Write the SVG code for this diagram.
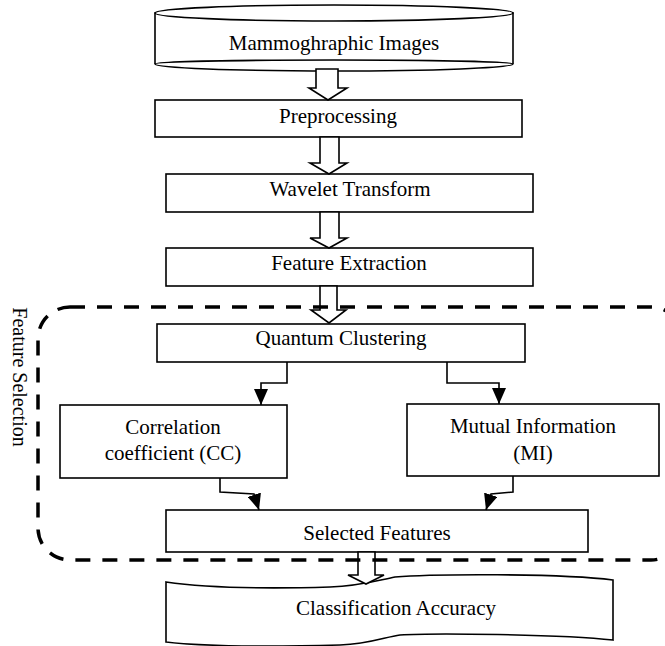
<svg xmlns="http://www.w3.org/2000/svg" width="665" height="646" viewBox="0 0 665 646">
<defs>
<style>
.box{fill:#fff;stroke:#000;stroke-width:1.6}
.blk{fill:#fff;stroke:#000;stroke-width:1.6;stroke-linejoin:miter}
.con{fill:none;stroke:#000;stroke-width:1.6}
.lbl{font-family:"Liberation Serif","Times New Roman",serif;font-size:21px;fill:#000;text-anchor:middle}
.grp{fill:none;stroke:#000;stroke-width:3.5;stroke-dasharray:15 12}
</style>
<marker id="ah" viewBox="0 0 16 14" refX="16" refY="7" markerWidth="16" markerHeight="14" markerUnits="userSpaceOnUse" orient="auto">
<path d="M0,0 L16,7 L0,14 Z" fill="#000"/>
</marker>
</defs>
<rect width="665" height="646" fill="#fff"/>

<g id="mammographic-images">
<path class="box" d="M155,13 V64 A179,7 0 0 0 513,64 V13 Z"/>
<ellipse class="box" cx="334" cy="13" rx="179" ry="8"/>
<path class="con" d="M155,64 A179,4 0 0 1 513,64"/>
<text class="lbl" x="334" y="50">Mammoghraphic Images</text>
</g>

<g id="preprocessing">
<rect class="box" x="155" y="100" width="367" height="37"/>
<text class="lbl" x="338" y="123">Preprocessing</text>
</g>

<g id="wavelet-transform">
<rect class="box" x="166" y="174" width="367" height="38"/>
<text class="lbl" x="350" y="196">Wavelet Transform</text>
</g>

<g id="feature-extraction">
<rect class="box" x="166" y="248" width="367" height="38"/>
<text class="lbl" x="349" y="270">Feature Extraction</text>
</g>

<g id="quantum-clustering">
<rect class="box" x="157" y="324" width="368" height="38"/>
<text class="lbl" x="341" y="345">Quantum Clustering</text>
</g>

<g id="correlation-coefficient">
<rect class="box" x="60" y="405" width="227" height="73"/>
<text class="lbl" x="173" y="434">Correlation</text>
<text class="lbl" x="173" y="460">coefficient (CC)</text>
</g>

<g id="mutual-information">
<rect class="box" x="407" y="404" width="252" height="72"/>
<text class="lbl" x="533" y="433">Mutual Information</text>
<text class="lbl" x="533" y="460">(MI)</text>
</g>

<g id="selected-features">
<rect class="box" x="166" y="510" width="422" height="42"/>
<text class="lbl" x="377" y="540">Selected Features</text>
</g>

<g id="classification-accuracy">
<path class="box" d="M166,582 C200,587 260,589 330,587 C360,586 375,581 395,577 C430,574 560,573 613,580 V640 C560,634 430,633 400,635 C385,637 370,644 340,645 C260,647 200,646 166,642 Z"/>
<text class="lbl" x="396" y="615">Classification Accuracy</text>
</g>

<g id="connectors">
<path class="blk" d="M316,69 V88 H309 L328,100 L347,88 H338 V69 Z"/>
<path class="blk" d="M320,137 V163 H310 L329,174 L347,163 H339 V137 Z"/>
<path class="blk" d="M320,212 V238 H310 L329,248 L347,238 H339 V212 Z"/>
<path class="blk" d="M320,286 V310 H311 L329,323 L346,310 H337 V286 Z"/>
<path class="blk" d="M358,552 V575 H348 L366,584 L384,575 H375 V552 Z"/>
<path class="con" d="M287,362 V383 H261 V405" marker-end="url(#ah)"/>
<path class="con" d="M447,362 V383 H499 V404" marker-end="url(#ah)"/>
<path class="con" d="M220,478 V492 L254,494 L259,510" marker-end="url(#ah)"/>
<path class="con" d="M513,476 V492 L491,494 L486,510" marker-end="url(#ah)"/>
</g>

<g id="feature-selection">
<rect class="grp" x="38" y="307" width="645" height="253" rx="32" ry="32"/>
<text class="lbl" font-size="20" style="font-size:20px" transform="translate(12.5,377) rotate(90)">Feature Selection</text>
</g>
</svg>
